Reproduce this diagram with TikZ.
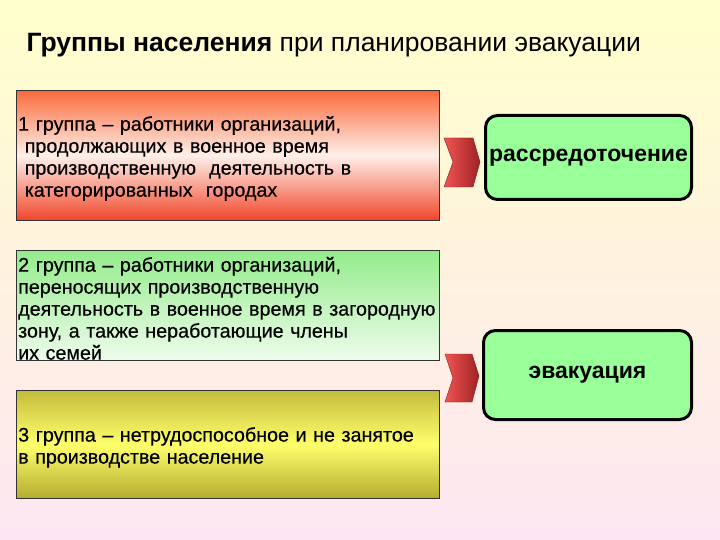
\documentclass[tikz,border=0pt]{standalone}
\usepackage{fontspec}
\setmainfont{Liberation Sans}
\newfontfamily\bodyfont[FakeBold=0.4]{Liberation Sans}
\definecolor{bgtop}{HTML}{FFFFCC}
\definecolor{bgbot}{HTML}{FDE6F2}
\definecolor{redtop}{HTML}{FA6A3C}
\definecolor{redmid}{HTML}{FFF0EA}
\definecolor{redbot}{HTML}{F0462A}
\definecolor{grntop}{HTML}{94EC8C}
\definecolor{grnbot}{HTML}{EEFCEC}
\definecolor{yeltop}{HTML}{C4BC3C}
\definecolor{yelmid}{HTML}{FFFF6C}
\definecolor{yelbot}{HTML}{B4AC30}
\definecolor{rbox}{HTML}{99FF99}
\definecolor{chevL}{HTML}{F25454}
\definecolor{chevR}{HTML}{9E2222}
\begin{document}
\begin{tikzpicture}[x=1pt,y=-1pt,
  grpbox/.style={draw=black!80, line width=0.8pt, minimum width=423pt, anchor=north west, inner sep=0pt},
  grptext/.style={anchor=west, text width=421pt, inner sep=0pt, align=left,
     font=\bodyfont\fontsize{19.7}{22}\selectfont},
  resbox/.style={draw=black, line width=3pt, rounded corners=12pt, fill=rbox,
     font=\fontsize{23}{26}\bfseries\selectfont, anchor=north west},
  chev/.style={left color=chevL, right color=chevR, draw=chevR!80!black, line width=0.4pt}]
\useasboundingbox (0,0) rectangle (720,540);
\shade[top color=bgtop, bottom color=bgbot] (0,0) rectangle (720,540);
\node[anchor=base west, font=\fontsize{26.5}{30}\selectfont] (title) at (23,52)
  {\textbf{Группы населения} при планировании эвакуации};
\node[grpbox, minimum height=130pt, top color=redtop, bottom color=redbot, middle color=redmid] (g1) at (16,90) {};
\node[grpbox, minimum height=110pt, top color=grntop, bottom color=grnbot] (g2) at (16,250) {};
\node[grpbox, minimum height=108pt, top color=yeltop, bottom color=yelbot, middle color=yelmid] (g3) at (16,390) {};
\node[grptext] (t1) at ([xshift=2pt,yshift=-3pt]g1.west)
  {1 группа – работники организаций,\\
   \ продолжающих в военное время\\
   \ производственную \ деятельность в\\
   \ категорированных \ городах};
\node[grptext] (t2) at ([xshift=2pt,yshift=-3pt]g2.west)
  {2 группа – работники организаций,\\
   переносящих производственную\\
   деятельность в военное время в загородную\\
   зону, а также неработающие члены\\
   их семей};
\node[grptext] (t3) at ([xshift=2pt,yshift=-3pt]g3.west)
  {3 группа – нетрудоспособное и не занятое\\
   в производстве население};
\node[resbox, minimum width=206pt, minimum height=84pt] (r1) at (484,114) {рассредоточение};
\node[resbox, minimum width=208pt, minimum height=89pt] (r2) at (482,329) {эвакуация};
\coordinate (c1) at (444,138);
\coordinate (c2) at (445,354);
\shade[chev] (c1) -- ++(29,0) -- ++(7,24) -- ++(-7,25) -- ++(-29,0) -- ++(9,-25) -- cycle;
\shade[chev] (c2) -- ++(27,0) -- ++(7,22) -- ++(-7,26) -- ++(-27,0) -- ++(8,-24) -- cycle;
\end{tikzpicture}
\end{document}
